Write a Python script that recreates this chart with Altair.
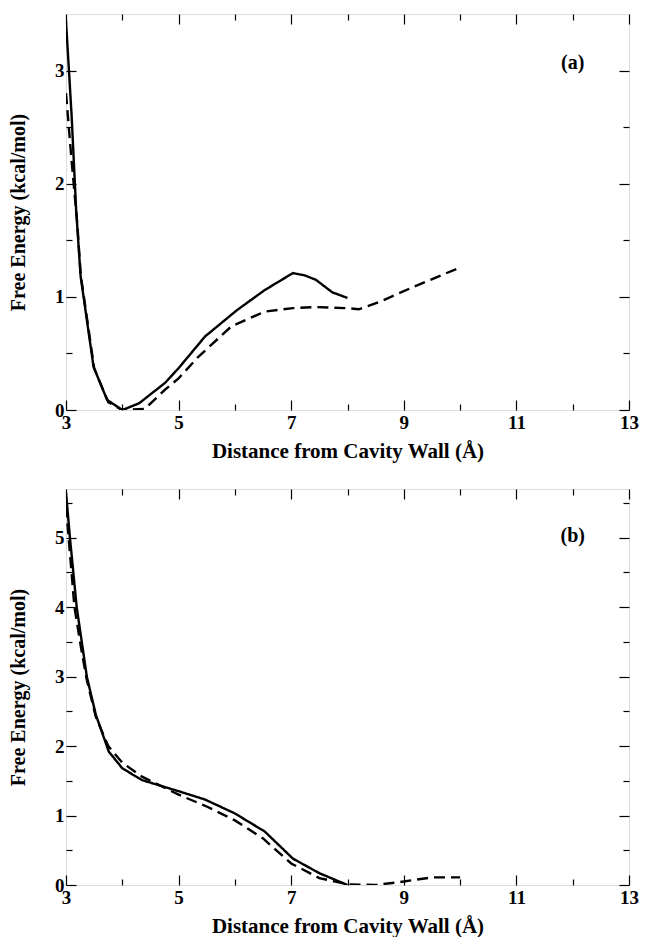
import altair as alt
import pandas as pd

# ---------------- data ----------------
# Panel (a)
a_solid_x = [3.0, 3.1, 3.18, 3.26, 3.49, 3.73, 4.0, 4.3, 4.76, 5.0, 5.47, 6.03, 6.53, 7.03, 7.24, 7.44, 7.73, 8.0]
a_solid_y = [3.44, 2.6, 1.77, 1.18, 0.38, 0.09, 0.0, 0.06, 0.24, 0.37, 0.65, 0.88, 1.06, 1.21, 1.19, 1.15, 1.04, 0.99]
a_dash_x = [3.0, 3.1, 3.2, 3.26, 3.5, 3.75, 4.0, 4.4, 4.76, 5.0, 5.35, 5.94, 6.53, 7.03, 7.44, 8.0, 8.2, 8.59, 9.18, 10.0]
a_dash_y = [2.8, 2.2, 1.65, 1.2, 0.37, 0.07, 0.0, 0.01, 0.18, 0.28, 0.47, 0.74, 0.87, 0.9, 0.91, 0.9, 0.89, 0.96, 1.09, 1.26]

# Panel (b)
b_solid_x = [3.0, 3.07, 3.19, 3.28, 3.37, 3.53, 3.76, 4.0, 4.35, 5.0, 5.47, 6.0, 6.53, 7.03, 7.5, 8.0]
b_solid_y = [5.65, 5.0, 4.0, 3.5, 3.0, 2.45, 1.92, 1.68, 1.51, 1.35, 1.23, 1.03, 0.77, 0.38, 0.17, 0.0]
b_dash_x = [3.0, 3.15, 3.27, 3.37, 3.53, 3.75, 4.0, 4.35, 5.0, 5.5, 6.0, 6.5, 7.0, 7.5, 8.0, 8.5, 9.0, 9.5, 10.0]
b_dash_y = [5.45, 4.0, 3.4, 2.95, 2.42, 2.0, 1.76, 1.56, 1.3, 1.13, 0.93, 0.67, 0.31, 0.1, 0.01, 0.0, 0.05, 0.11, 0.11]

x_ticks = [3, 4, 5, 6, 7, 8, 9, 10, 11, 12, 13]
a_y_ticks = [0, 0.5, 1, 1.5, 2, 2.5, 3]
b_y_ticks = [0, 0.5, 1, 1.5, 2, 2.5, 3, 3.5, 4, 4.5, 5, 5.5]
a_y_max = 3.5
b_y_max = 5.7
panel_labels = ["(a)", "(b)"]
label_pos_x = [12.0, 12.0]
label_pos_y = [3.07, 5.02]

x_title = "Distance from Cavity Wall (Å)"
y_title = "Free Energy (kcal/mol)"

FONT = "Liberation Serif"
PLOT_W = 563
PLOT_H = 396


def x_axis(orient, show):
    kw = dict(
        orient=orient, values=x_ticks, labels=show,
        labelExpr="datum.value % 2 == 1 ? format(datum.value, 'd') : ''",
        tickSize={"condition": {"test": "datum.value % 2 == 1", "value": -10}, "value": -6},
        tickColor="black", tickWidth=1.2, domain=False, grid=False,
        labelFont=FONT, labelFontWeight="bold", labelFontSize=19, labelColor="black",
        labelPadding=13, labelFlush=False, labelOverlap=False,
    )
    if show:
        kw.update(title=x_title, titleFont=FONT, titleFontWeight="bold", titleFontSize=21,
                  titleColor="black", titlePadding=4)
    else:
        kw.update(title=None)
    return alt.Axis(**kw)


def y_axis(orient, show, ticks):
    kw = dict(
        orient=orient, values=ticks, labels=show,
        labelExpr="datum.value % 1 == 0 ? format(datum.value, 'd') : ''",
        tickSize={"condition": {"test": "datum.value % 1 == 0", "value": -10}, "value": -6},
        tickColor="black", tickWidth=1.2, domain=False, grid=False,
        labelFont=FONT, labelFontWeight="bold", labelFontSize=19, labelColor="black",
        labelPadding=12, labelFlush=False, labelOverlap=False,
    )
    if show:
        kw.update(title=y_title, titleFont=FONT, titleFontWeight="bold", titleFontSize=20,
                  titleColor="black", titlePadding=26)
    else:
        kw.update(title=None)
    return alt.Axis(**kw)


def panel(sx, sy, dx, dy, ymax, yticks, idx):
    df = pd.concat([
        pd.DataFrame({"x": sx, "y": sy, "series": "solid"}),
        pd.DataFrame({"x": dx, "y": dy, "series": "dashed"}),
    ], ignore_index=True)
    xs = alt.Scale(domain=[3, 13], nice=False, zero=False)
    ys = alt.Scale(domain=[0, ymax], nice=False, zero=False)

    lines = alt.Chart(df).mark_line(color="black", strokeWidth=2.4, clip=True).encode(
        x=alt.X("x:Q", scale=xs, axis=x_axis("bottom", True)),
        y=alt.Y("y:Q", scale=ys, axis=y_axis("left", True, yticks)),
        strokeDash=alt.StrokeDash("series:N",
                                  scale=alt.Scale(domain=["solid", "dashed"], range=[[1, 0], [11, 6]]),
                                  legend=None),
        detail="series:N",
    )
    mirror = alt.Chart(df).mark_point(opacity=0).encode(
        x=alt.X("x:Q", scale=xs, axis=x_axis("top", False)),
        y=alt.Y("y:Q", scale=ys, axis=y_axis("right", False, yticks)),
    )
    lab = pd.DataFrame({"x": [label_pos_x[idx]], "y": [label_pos_y[idx]], "t": [panel_labels[idx]]})
    text = alt.Chart(lab).mark_text(font=FONT, fontWeight="bold", fontSize=20, color="black").encode(
        x=alt.X("x:Q", scale=xs, axis=None),
        y=alt.Y("y:Q", scale=ys, axis=None),
        text="t:N",
    )
    return alt.layer(lines, mirror, text).resolve_axis(x="independent", y="independent").properties(
        width=PLOT_W, height=PLOT_H)


top = panel(a_solid_x, a_solid_y, a_dash_x, a_dash_y, a_y_max, a_y_ticks, 0)
bottom = panel(b_solid_x, b_solid_y, b_dash_x, b_dash_y, b_y_max, b_y_ticks, 1)

chart = alt.vconcat(top, bottom, spacing=25).properties(
    padding={"left": 0, "top": 4, "right": 0, "bottom": 0}
).configure_view(stroke="black", strokeWidth=1.5).configure(background="white")

chart.save("out.html", embed_options={"renderer": "svg", "actions": False})
